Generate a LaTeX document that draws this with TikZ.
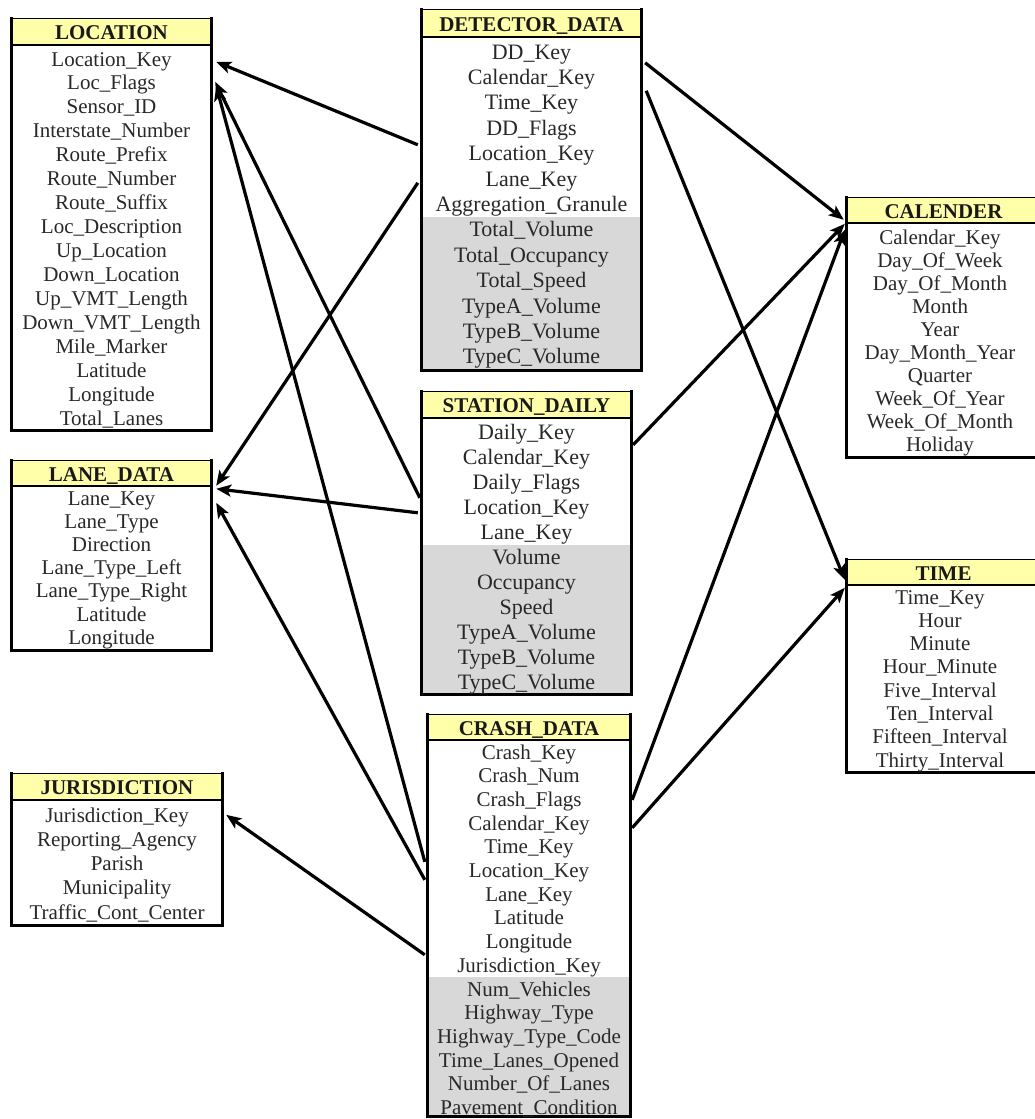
\documentclass[tikz,border=0pt]{standalone}
\usepackage{fontspec}
\setmainfont{Liberation Serif}
\usetikzlibrary{arrows.meta,fit,calc}
\definecolor{hdrfill}{RGB}{255,255,170}
\definecolor{keyfill}{RGB}{216,216,216}
\definecolor{txt}{RGB}{40,40,40}
\tikzset{
  row/.style={anchor=base, inner sep=0pt, text=txt},
  title/.style={anchor=base, inner sep=0pt, text=black!90,
    font=\bfseries\fontsize{21pt}{21pt}\selectfont},
  frame/.style={line width=3pt, line cap=rect, line join=miter},
  topline/.style={line width=1.2pt},
  hdrline/.style={line width=1.8pt},
  fk/.style={line width=3.2pt, -{Stealth[length=15pt,width=12pt,inset=3.5pt]}},
}

% table frame: name, x0, y0, x1, y1, header bottom, shaded part start, title
\newcommand\dbtable[8]{%
  \fill[hdrfill] (#2,#3) rectangle (#4,#6);
  \fill[keyfill] (#2,#7) rectangle (#4,#5);
  \node[fit={(#2,#3) (#4,#5)}, inner sep=0pt] (#1) {};
  \draw[topline] (#1.north west) -- (#1.north east);
  \draw[frame] (#1.north west) -- (#1.south west) -- (#1.south east) -- (#1.north east);
  \draw[hdrline] (#2,#6) -- (#4,#6);
  \node[title] (#1-title) at ({(#2+#4)/2},{(#3+#6)/2+7.5}) {#8};
}

% column rows: name, centre x, first row y, pitch, font size, entries
\newcommand\dbrows[6]{%
  \foreach \entry [count=\i] in {#6}
    \node[row, font=\fontsize{#5pt}{#5pt}\selectfont] (#1-\i)
      at (#2, {#3+(\i-1)*#4+7}) {\entry};
}

\begin{document}
\begin{tikzpicture}[x=1pt, y=-1pt]
\fill[white] (0,0) rectangle (1034,1119);
\useasboundingbox (0,0) rectangle (1034,1119);

% dimension tables
\dbtable{loc}{12}{19}{211}{430}{45}{430}{LOCATION}
\dbrows{loc}{111.5}{59}{23.95}{21}{Location\_Key, Loc\_Flags, Sensor\_ID,
  Interstate\_Number, Route\_Prefix, Route\_Number, Route\_Suffix,
  Loc\_Description, Up\_Location, Down\_Location, Up\_VMT\_Length,
  Down\_VMT\_Length, Mile\_Marker, Latitude, Longitude, Total\_Lanes}

\dbtable{lane}{12}{461}{211}{650}{486}{650}{LANE\_DATA}
\dbrows{lane}{111.5}{498}{23.2}{21}{Lane\_Key, Lane\_Type, Direction,
  Lane\_Type\_Left, Lane\_Type\_Right, Latitude, Longitude}

\dbtable{jur}{12}{774}{222}{925}{800}{925}{JURISDICTION}
\dbrows{jur}{117}{815}{24.25}{21}{Jurisdiction\_Key, Reporting\_Agency,
  Parish, Municipality, Traffic\_Cont\_Center}

\dbtable{cal}{847}{198}{1040}{457}{223}{457}{CALENDER}
\dbrows{cal}{940}{237}{23.1}{21}{Calendar\_Key, Day\_Of\_Week,
  Day\_Of\_Month, Month, Year, Day\_Month\_Year, Quarter, Week\_Of\_Year,
  Week\_Of\_Month, Holiday}

\dbtable{time}{847}{560}{1040}{772}{585}{772}{TIME}
\dbrows{time}{940}{597}{23.3}{21}{Time\_Key, Hour, Minute, Hour\_Minute,
  Five\_Interval, Ten\_Interval, Fifteen\_Interval, Thirty\_Interval}

% fact tables
\dbtable{det}{422}{10}{641}{370}{37}{217}{DETECTOR\_DATA}
\dbrows{det}{531.5}{52}{25.4}{22}{DD\_Key, Calendar\_Key, Time\_Key,
  DD\_Flags, Location\_Key, Lane\_Key, Aggregation\_Granule, Total\_Volume,
  Total\_Occupancy, Total\_Speed, TypeA\_Volume, TypeB\_Volume, TypeC\_Volume}

\dbtable{sta}{422}{392}{631}{694}{418}{545}{STATION\_DAILY}
\dbrows{sta}{526.5}{432}{25}{22}{Daily\_Key, Calendar\_Key, Daily\_Flags,
  Location\_Key, Lane\_Key, Volume, Occupancy, Speed, TypeA\_Volume,
  TypeB\_Volume, TypeC\_Volume}

\dbtable{crash}{428}{715}{630}{1116}{740}{977}{CRASH\_DATA}
\dbrows{crash}{529}{752}{23.7}{21}{Crash\_Key, Crash\_Num, Crash\_Flags,
  Calendar\_Key, Time\_Key, Location\_Key, Lane\_Key, Latitude, Longitude,
  Jurisdiction\_Key, Num\_Vehicles, Highway\_Type, Highway\_Type\_Code,
  Time\_Lanes\_Opened, Number\_Of\_Lanes, Pavement\_Condition}

% foreign key references
\draw[fk] ([xshift=-4pt,yshift=-135pt]det.north west) -- ([xshift=5pt,yshift=-43pt]loc.north east);
\draw[fk] ([xshift=-4pt,yshift=-173pt]det.north west) -- ([xshift=5pt,yshift=-25pt]lane.north east);
\draw[fk] ([xshift=4pt,yshift=-53pt]det.north east) -- ([xshift=-3pt,yshift=-22pt]cal.north west);
\draw[fk] ([xshift=5pt,yshift=-81pt]det.north east) -- ([xshift=-2pt,yshift=-20pt]time.north west);

\draw[fk] ([xshift=-2pt,yshift=-106pt]sta.north west) -- ([xshift=4pt,yshift=-63pt]loc.north east);
\draw[fk] ([xshift=-4pt,yshift=-121pt]sta.north west) -- ([xshift=5pt,yshift=-28pt]lane.north east);
\draw[fk] ([xshift=2pt,yshift=-53pt]sta.north east) -- ([xshift=-2pt,yshift=-26pt]cal.north west);

\draw[fk] ([xshift=-3pt,yshift=-147pt]crash.north west) -- ([xshift=5pt,yshift=-67pt]loc.north east);
\draw[fk] ([xshift=-3pt,yshift=-165pt]crash.north west) -- ([xshift=5pt,yshift=-42pt]lane.north east);
\draw[fk] ([xshift=-3pt,yshift=-240pt]crash.north west) -- ([xshift=4pt,yshift=-41pt]jur.north east);
\draw[fk] ([xshift=2pt,yshift=-85pt]crash.north east) -- ([xshift=-2pt,yshift=-32pt]cal.north west);
\draw[fk] ([xshift=2pt,yshift=-113pt]crash.north east) -- ([xshift=-2pt,yshift=-28pt]time.north west);
\end{tikzpicture}
\end{document}
